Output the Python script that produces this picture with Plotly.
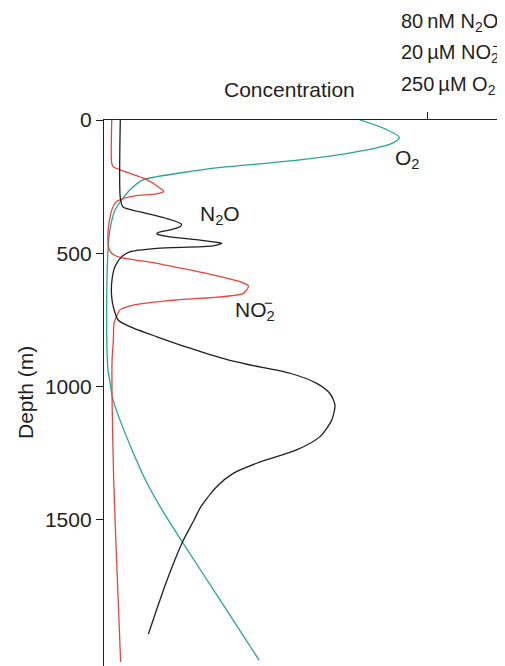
import plotly.graph_objects as go
import numpy as np

# ---- data ----
# Depth in m, O2 in µM
o2_depth = [0, 30, 65, 86, 105, 124, 150, 180, 199, 213, 225, 263, 300, 338, 413, 488,
            676, 864, 939, 984, 1051, 1127, 1239, 1352, 1464, 1577, 1802, 2028]
o2_um = [198, 216, 228.6, 223.7, 211, 190, 151.7, 87, 59, 41, 30, 20, 13.7, 8.5, 4.6, 3.1,
         2.1, 2.3, 3.1, 4.6, 7.0, 12.4, 21.7, 32.1, 44.9, 59.6, 89.8, 120.0]

# N2O in nM
n2o_depth = [0, 293, 327, 345, 368, 391, 401, 413, 423, 428, 439, 451, 461, 463, 473, 482,
             495, 513, 551, 612, 664, 701, 751, 776, 814, 857, 901, 920, 951, 989, 1028,
             1070, 1127, 1189, 1239, 1289, 1327, 1377, 1452, 1502, 1589, 1728, 1829, 1930]
n2o_nm = [4.04, 4.04, 4.7, 8.9, 15.1, 19.2, 18.8, 16.3, 13.4, 13.1, 16.3, 23.8, 28.7, 29.2,
          27.0, 13.1, 6.4, 4.4, 2.7, 1.9, 1.9, 2.3, 3.5, 6.4, 13.1, 21.3, 30.7, 36.2, 46.1,
          52.7, 56.0, 57.2, 56.4, 53.5, 47.7, 37.8, 32.0, 27.9, 24.0, 22.3, 19.3, 15.6, 13.25, 11.0]

# NO2- in µM
no2_depth = [0, 163, 176, 194, 222, 257, 268, 277, 285, 297, 308, 330, 382, 438, 476, 495,
             507, 516, 538, 563, 576, 607, 623, 651, 676, 695, 713, 736, 763, 826, 901,
             1051, 1352, 1652, 2035]
no2_um = [0.48, 0.48, 0.58, 1.30, 2.60, 3.50, 3.70, 3.26, 1.92, 1.10, 0.74, 0.53, 0.32, 0.24,
          0.27, 0.40, 0.62, 0.99, 3.26, 5.33, 6.36, 8.42, 8.94, 8.63, 4.4, 1.80, 0.99, 0.79,
          0.62, 0.58, 0.50, 0.50, 0.60, 0.78, 1.03]

# full-scale values at the single x tick
o2_scale, no2_scale, n2o_scale = 250, 20, 80
depth_ticks = [0, 500, 1000, 1500]

# ---- figure ----
OFF = 8                       # default body margin of the html page
SW, SH = 505, 666             # screen size
W, H = SW - OFF, SH - OFF     # figure size
SL, ST = 104, 120             # plot area top-left on screen
L, T = SL - OFF, ST - OFF
pw, ph = W - L, H - T
px_per_unit = 323  # pixels from axis to the tick
xmax = pw / px_per_unit
ymax = ph / 0.2663

FONT = "Liberation Sans, Arial, Helvetica, sans-serif"
TXT = "#231f20"
BLACK = "#231f20"
TEAL = "#26a598"
RED = "#e8453c"

def px2paper(x, y):
    # screen pixel -> paper coords
    return (x - SL) / pw, 1 - (y - ST) / ph

fig = go.Figure()
lw = 1.3
fig.add_trace(go.Scatter(x=np.array(o2_um) / o2_scale, y=o2_depth, mode="lines",
                         line=dict(color=TEAL, width=lw, shape="spline", smoothing=0.7),
                         hoverinfo="skip"))
fig.add_trace(go.Scatter(x=np.array(no2_um) / no2_scale, y=no2_depth, mode="lines",
                         line=dict(color=RED, width=lw, shape="spline", smoothing=0.7),
                         hoverinfo="skip"))
fig.add_trace(go.Scatter(x=np.array(n2o_nm) / n2o_scale, y=n2o_depth, mode="lines",
                         line=dict(color=BLACK, width=lw, shape="spline", smoothing=0.7),
                         hoverinfo="skip"))

fig.update_layout(
    width=W, height=H, margin=dict(l=L, r=0, t=T, b=0, autoexpand=False),
    paper_bgcolor="white", plot_bgcolor="white", showlegend=False,
    font=dict(family=FONT, size=21, color=TXT),
    xaxis=dict(range=[0, xmax], side="top", showgrid=False, zeroline=False,
               showline=True, linecolor=BLACK, linewidth=1.3, automargin=False,
               tickvals=[1], ticks="outside", ticklen=7, tickcolor=BLACK, tickwidth=1.3,
               showticklabels=False),
    yaxis=dict(range=[ymax, 0], showgrid=False, zeroline=False, automargin=False,
               showline=True, linecolor=BLACK, linewidth=1.3,
               tickvals=depth_ticks, ticktext=[str(v) for v in depth_ticks],
               ticks="outside", ticklen=7, tickcolor=BLACK, tickwidth=1.3,
               tickfont=dict(family=FONT, size=21, color=TXT)),
)

def ann(text, x, y, xanchor="left", size=21, angle=0):
    xp, yp = px2paper(x, y)
    fig.add_annotation(text=text, x=xp, y=yp, xref="paper", yref="paper",
                       xanchor=xanchor, yanchor="middle", showarrow=False,
                       textangle=angle, font=dict(family=FONT, size=size, color=TXT))

# axis titles
ann("Concentration", 289, 90, xanchor="center")
ann("Depth (m)", 25, 393, xanchor="center", angle=-90)

# stacked tick label
ann("80\u2009nM N<sub>2</sub>O", 399, 23, size=20)
ann("20\u2009\u00b5M NO<sub>2</sub>", 399, 53, size=20)
ann("\u2212", 490, 46, size=14)
ann("250\u2009\u00b5M O<sub>2</sub>", 399, 85, size=20)

# curve labels
ann("O<sub>2</sub>", 393, 159)
ann("N<sub>2</sub>O", 198, 215)
ann("NO<sub>2</sub>", 233, 311)
ann("\u2212", 262, 303, size=15)

fig.write_html("out.html")
